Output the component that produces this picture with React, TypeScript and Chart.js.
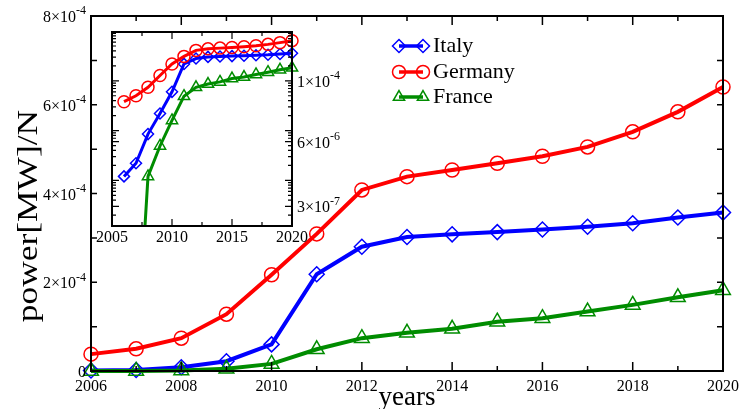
import React, { useEffect, useRef } from "react";
import { Chart, registerables } from "chart.js";

Chart.register(...registerables);

// Installed power per capita, 2006–2020
const years = [2006, 2007, 2008, 2009, 2010, 2011, 2012, 2013, 2014, 2015, 2016, 2017, 2018, 2019, 2020];
const italy = [1.2e-6, 2.2e-6, 8.5e-6, 2.2e-5, 6.0e-5, 2.18e-4, 2.8e-4, 3.02e-4, 3.08e-4, 3.13e-4, 3.19e-4, 3.25e-4, 3.33e-4, 3.46e-4, 3.57e-4];
const germany = [3.8e-5, 5.0e-5, 7.4e-5, 1.28e-4, 2.17e-4, 3.09e-4, 4.08e-4, 4.38e-4, 4.53e-4, 4.68e-4, 4.84e-4, 5.05e-4, 5.39e-4, 5.84e-4, 6.4e-4];
const france = [1e-10, 1.3e-10, 1.2e-6, 4.9e-6, 1.6e-5, 4.9e-5, 7.4e-5, 8.6e-5, 9.5e-5, 1.11e-4, 1.19e-4, 1.34e-4, 1.49e-4, 1.66e-4, 1.82e-4];

const seriesNames = ["Italy", "Germany", "France"];

// axis ticks
const mainXLabels = [2006, 2008, 2010, 2012, 2014, 2016, 2018, 2020];
const mainYLabels = [0, 2e-4, 4e-4, 6e-4, 8e-4];
const insetXLabels = [2005, 2010, 2015, 2020];
const insetYLabels = [1e-4, 6e-6, 3e-7];

const RED = "#ff0000";
const BLUE = "#0000ff";
const GREEN = "#008c00";
const SERIF = '"Liberation Serif", "Times New Roman", serif';

type Shape = "circle" | "rectRot" | "triangle";

function font(size: number) {
  return `${size}px ${SERIF}`;
}

function drawText(ctx: CanvasRenderingContext2D, s: string, x: number, y: number, size: number, align: CanvasTextAlign = "left") {
  ctx.save();
  ctx.font = font(size);
  ctx.fillStyle = "#000";
  ctx.textAlign = align;
  ctx.textBaseline = "alphabetic";
  ctx.fillText(s, x, y);
  ctx.restore();
}

// "m×10^e" with a raised exponent
function drawSci(ctx: CanvasRenderingContext2D, v: number, x: number, y: number, size: number, align: "left" | "right") {
  if (v === 0) {
    drawText(ctx, "0", x, y, size, align);
    return;
  }
  const e = Math.floor(Math.log10(v) + 1e-9);
  const m = Math.round(v / Math.pow(10, e));
  const base = `${m}×10`;
  const sup = `${e}`;
  const supSize = Math.round(size * 0.72);
  ctx.save();
  ctx.font = font(size);
  const wb = ctx.measureText(base).width;
  ctx.font = font(supSize);
  const ws = ctx.measureText(sup).width;
  ctx.restore();
  const x0 = align === "right" ? x - wb - ws : x;
  drawText(ctx, base, x0, y, size);
  drawText(ctx, sup, x0 + wb, y - size * 0.48, supSize);
}

function drawMarker(ctx: CanvasRenderingContext2D, shape: Shape, x: number, y: number, r: number) {
  ctx.beginPath();
  if (shape === "circle") {
    ctx.arc(x, y, r, 0, Math.PI * 2);
  } else if (shape === "rectRot") {
    ctx.moveTo(x - r, y);
    ctx.lineTo(x, y - r);
    ctx.lineTo(x + r, y);
    ctx.lineTo(x, y + r);
    ctx.closePath();
  } else {
    const h = r * 1.5;
    const half = (r * Math.sqrt(3)) / 2;
    ctx.moveTo(x, y - r);
    ctx.lineTo(x + half, y - r + h);
    ctx.lineTo(x - half, y - r + h);
    ctx.closePath();
  }
  ctx.stroke();
}

const styles: { color: string; shape: Shape; mainR: number; insetR: number }[] = [
  { color: BLUE, shape: "rectRot", mainR: 7.5, insetR: 5.5 },
  { color: RED, shape: "circle", mainR: 7, insetR: 6 },
  { color: GREEN, shape: "triangle", mainR: 8.5, insetR: 6.5 },
];

const seriesValues = [italy, germany, france];

function makeDatasets(inset: boolean) {
  return seriesValues.map((vals, i) => {
    const st = styles[i];
    return {
      label: seriesNames[i],
      data: years.map((yr, k) => ({ x: yr, y: vals[k] })),
      borderColor: st.color,
      backgroundColor: st.color,
      borderWidth: inset ? 3 : 4,
      pointStyle: st.shape,
      pointRadius: inset ? st.insetR : st.mainR,
      pointBorderWidth: 1.5,
      pointBorderColor: st.color,
      pointBackgroundColor: "rgba(0,0,0,0)",
      tension: 0,
      order: 3 - i,
      clip: inset ? ({ left: false, top: false, right: false, bottom: 0 } as any) : (false as any),
    };
  });
}

const mainFrame = {
  id: "mainFrame",
  afterDraw(chart: Chart) {
    const { ctx, chartArea: a } = chart;
    const xs = chart.scales.x;
    const ys = chart.scales.y;
    ctx.save();
    ctx.strokeStyle = "#000";
    ctx.lineWidth = 1.5;
    ctx.beginPath();
    for (let yr = 2006; yr <= 2020; yr++) {
      const px = xs.getPixelForValue(yr);
      const len = yr % 2 === 0 ? 9 : 5;
      ctx.moveTo(px, a.bottom);
      ctx.lineTo(px, a.bottom - len);
      ctx.moveTo(px, a.top);
      ctx.lineTo(px, a.top + len);
    }
    for (let k = 0; k <= 8; k++) {
      const py = ys.getPixelForValue(k * 1e-4);
      ctx.moveTo(a.left, py);
      ctx.lineTo(a.left + 6, py);
      ctx.moveTo(a.right, py);
      ctx.lineTo(a.right - 6, py);
    }
    ctx.stroke();
    ctx.lineWidth = 2;
    ctx.strokeRect(a.left, a.top, a.right - a.left, a.bottom - a.top);

    // tick labels
    mainXLabels.forEach((yr) => drawText(ctx, String(yr), xs.getPixelForValue(yr), a.bottom + 20, 16, "center"));
    mainYLabels.forEach((v) => drawSci(ctx, v, a.left - 5, ys.getPixelForValue(v) + 6, 16, "right"));

    // axis titles
    drawText(ctx, "years", (a.left + a.right) / 2, 405, 27, "center");
    ctx.save();
    ctx.translate(37, 216);
    ctx.rotate(-Math.PI / 2);
    ctx.scale(1.18, 1);
    ctx.font = font(30);
    ctx.fillStyle = "#000";
    ctx.textAlign = "center";
    ctx.fillText("power[MW]/N", 0, 0);
    ctx.restore();

    // legend
    const rows = [52, 78, 103];
    seriesNames.forEach((name, i) => {
      const st = styles[i];
      const ly = rows[i] - 6;
      ctx.strokeStyle = st.color;
      ctx.lineWidth = 3.5;
      ctx.beginPath();
      ctx.moveTo(399, ly);
      ctx.lineTo(423, ly);
      ctx.stroke();
      ctx.lineWidth = 1.5;
      drawMarker(ctx, st.shape, 399, ly, 6.5);
      drawMarker(ctx, st.shape, 423, ly, 6.5);
      drawText(ctx, name, 433, rows[i], 22);
    });
    ctx.restore();
  },
};

const insetFrame = {
  id: "insetFrame",
  beforeDatasetsDraw(chart: Chart) {
    const { ctx, chartArea: a } = chart;
    ctx.save();
    ctx.fillStyle = "#fff";
    ctx.fillRect(a.left, a.top, a.right - a.left, a.bottom - a.top);
    ctx.restore();
  },
  afterDraw(chart: Chart) {
    const { ctx, chartArea: a } = chart;
    const xs = chart.scales.x;
    const ys = chart.scales.y;
    const ymin = ys.min;
    const ymax = ys.max;
    ctx.save();
    ctx.strokeStyle = "#000";
    ctx.lineWidth = 1.2;
    ctx.beginPath();
    for (let t = 2005; t <= 2020; t += 2.5) {
      const px = xs.getPixelForValue(t);
      const len = t % 5 === 0 ? 7 : 4;
      ctx.moveTo(px, a.bottom);
      ctx.lineTo(px, a.bottom - len);
      ctx.moveTo(px, a.top);
      ctx.lineTo(px, a.top + len);
    }
    for (let d = -8; d <= -3; d++) {
      for (let m = 1; m <= 9; m++) {
        const v = m * Math.pow(10, d);
        if (v < ymin || v > ymax) continue;
        const py = ys.getPixelForValue(v);
        const len = m === 1 ? 7 : 4;
        ctx.moveTo(a.left, py);
        ctx.lineTo(a.left + len, py);
        ctx.moveTo(a.right, py);
        ctx.lineTo(a.right - len, py);
      }
    }
    insetYLabels.forEach((v) => {
      const py = ys.getPixelForValue(v);
      ctx.moveTo(a.left, py);
      ctx.lineTo(a.left + 7, py);
      ctx.moveTo(a.right, py);
      ctx.lineTo(a.right - 7, py);
    });
    ctx.stroke();
    ctx.lineWidth = 2;
    ctx.strokeRect(a.left, a.top, a.right - a.left, a.bottom - a.top);

    insetXLabels.forEach((yr) => drawText(ctx, String(yr), xs.getPixelForValue(yr), a.bottom + 16, 16, "center"));
    insetYLabels.forEach((v) => drawSci(ctx, v, a.right + 5, ys.getPixelForValue(v) + 6, 16, "left"));
    ctx.restore();
  },
};

export default function App() {
  const mainRef = useRef<HTMLCanvasElement | null>(null);
  const insetRef = useRef<HTMLCanvasElement | null>(null);

  useEffect(() => {
    const common = {
      responsive: false,
      animation: false as const,
      events: [] as any[],
      plugins: { legend: { display: false }, tooltip: { enabled: false } },
    };

    const main = new Chart(mainRef.current!, {
      type: "line",
      data: { datasets: makeDatasets(false) as any },
      options: {
        ...common,
        layout: { padding: { left: 91, top: 16, right: 17, bottom: 38 } },
        scales: {
          x: { type: "linear", display: false, min: 2006, max: 2020, bounds: "data" },
          y: { type: "linear", display: false, min: 0, max: 8e-4, bounds: "data" },
        },
      },
      plugins: [mainFrame],
    });

    const inset = new Chart(insetRef.current!, {
      type: "line",
      data: { datasets: makeDatasets(true) as any },
      options: {
        ...common,
        layout: { padding: { left: 112, top: 32, right: 448, bottom: 183 } },
        scales: {
          x: { type: "linear", display: false, min: 2005, max: 2020, bounds: "data" },
          y: { type: "logarithmic", display: false, min: 1.21e-7, max: 9.55e-4, bounds: "data" },
        },
      },
      plugins: [insetFrame],
    });

    return () => {
      main.destroy();
      inset.destroy();
    };
  }, []);

  const box: React.CSSProperties = { position: "absolute", left: 0, top: 0, width: 740, height: 409 };
  return (
    <div style={{ ...box, background: "#fff" }}>
      <canvas ref={mainRef} width={740} height={409} style={box} />
      <canvas ref={insetRef} width={740} height={409} style={box} />
    </div>
  );
}
